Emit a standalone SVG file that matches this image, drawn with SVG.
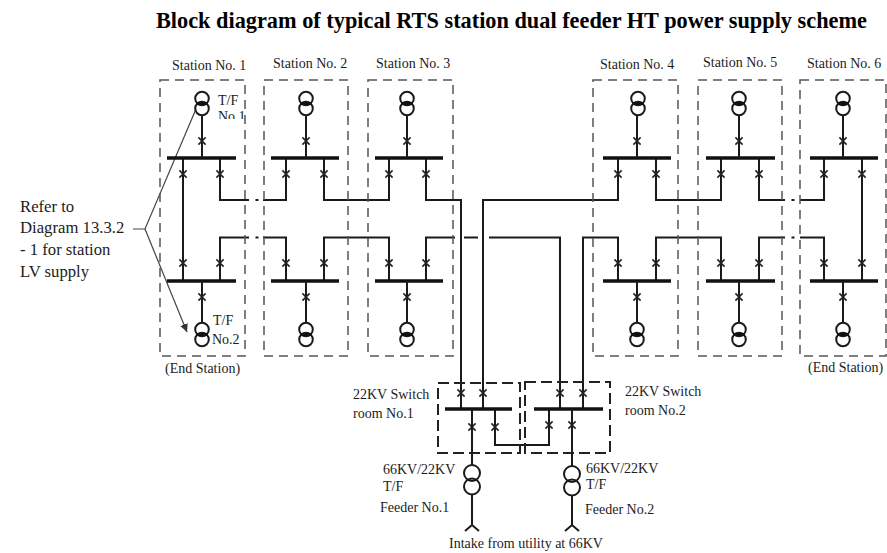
<svg xmlns="http://www.w3.org/2000/svg" width="887" height="553" viewBox="0 0 887 553">
<style>
text{font-family:"Liberation Serif","Times New Roman",serif;font-size:14px;fill:#1c1c1c}
.title{font-size:22.300px;font-weight:bold;fill:#000}
.side{font-size:16.7px}
.box{fill:none;stroke:#555;stroke-width:1.5;stroke-dasharray:9 6}
.room{fill:none;stroke:#222;stroke-width:2;stroke-dasharray:11 5}
.bus{stroke:#111;stroke-width:3.5;fill:none}
.ln{stroke:#1a1a1a;stroke-width:2;fill:none}
.lead{stroke:#444;stroke-width:1.2;fill:none}
.x{stroke:#222;stroke-width:1.6;fill:none}
.tf{stroke:#1a1a1a;stroke-width:2;fill:none}
</style>
<defs>
<path id="x" class="x" d="M-3.600-3.600L3.600 3.600M-3.600 3.600L3.600-3.600"/>
<g id="tf"><circle class="tf" cx="0" cy="-5" r="6.8"/><circle class="tf" cx="0" cy="5" r="6.8"/><path d="M-5.500 0H5.500" stroke="#111" stroke-width="3"/></g>
<g id="tfb"><circle class="tf" cx="0" cy="-7" r="8"/><circle class="tf" cx="0" cy="6.500" r="8"/></g>
<marker id="arr" markerWidth="9" markerHeight="8" refX="8" refY="4" orient="auto" markerUnits="userSpaceOnUse"><path d="M0 0L8 4L0 8Z" fill="#333"/></marker>
<clipPath id="clipTf"><rect x="210" y="94" width="40" height="25"/></clipPath>
</defs>

<text class="title" x="156" y="28">Block diagram of typical RTS station dual feeder HT power supply scheme</text>

<g id="connectors">
<path class="ln" d="M220 158V200H249M263 200H286V158M324 158V200H389V158M426 158V200H461V409M483 409V200H618V158M656 158V200H721V158M759 158V200H785M800 200H824V158"/>
<path class="ln" d="M220 281V237.500H249M263 237.500H286V281M324 281V237.500H389V281M426 281V237.500H455M464 237.500H478M489 237.500H560V409M583 409V237.500H618V281M656 281V237.500H721V281M759 281V237.500H785M800 237.500H824V281"/>
<path class="ln" d="M255.500 200H258.500M255.500 237.500H258.500M791.500 200H794.500M791.500 237.500H794.500"/>
<path class="ln" d="M183 158V281M862 158V281"/>
<path class="ln" d="M495 409V445H549V409"/>
</g>

<g id="refer-note">
<text class="side" x="20" y="212">Refer to</text>
<text class="side" x="20" y="233">Diagram 13.3.2</text>
<text class="side" x="20" y="255">- 1 for station</text>
<text class="side" x="20" y="277">LV supply</text>
<path class="lead" d="M133 229H145L196 109"/>
<path class="lead" d="M145 229L187 332" marker-end="url(#arr)"/>
</g>

<g id="station1">
<rect class="box" x="160" y="80" width="85" height="276"/>
<text x="172" y="70">Station No. 1</text>
<path class="bus" d="M167 158H236M167 281H236"/>
<path class="ln" d="M202 115V158M202 281V322"/>
<use href="#tf" x="202" y="103.500"/><use href="#tf" x="202" y="334.500"/>
<use href="#x" x="202" y="141"/><use href="#x" x="202" y="297"/>
<use href="#x" x="183" y="174"/><use href="#x" x="220" y="174"/><use href="#x" x="183" y="263"/><use href="#x" x="220" y="263"/>
<text x="218" y="105" clip-path="url(#clipTf)">T/F</text>
<text x="218" y="121" clip-path="url(#clipTf)">No.1</text>
<text x="213" y="325">T/F</text>
<text x="212" y="344">No.2</text>
<text x="165" y="373">(End Station)</text>
</g>

<g id="station2">
<rect class="box" x="264" y="80" width="84" height="276"/>
<text x="273" y="68">Station No. 2</text>
<path class="bus" d="M271 158H339M271 281H339"/>
<path class="ln" d="M306 115V158M306 281V322"/>
<use href="#tf" x="306" y="103.500"/><use href="#tf" x="306" y="334.500"/>
<use href="#x" x="306" y="141"/><use href="#x" x="306" y="297"/>
<use href="#x" x="286" y="174"/><use href="#x" x="324" y="174"/><use href="#x" x="286" y="263"/><use href="#x" x="324" y="263"/>
</g>

<g id="station3">
<rect class="box" x="368" y="80" width="85" height="276"/>
<text x="376" y="68">Station No. 3</text>
<path class="bus" d="M375 158H443M375 281H443"/>
<path class="ln" d="M407 115V158M407 281V322"/>
<use href="#tf" x="407" y="103.500"/><use href="#tf" x="407" y="334.500"/>
<use href="#x" x="407" y="141"/><use href="#x" x="407" y="297"/>
<use href="#x" x="389" y="174"/><use href="#x" x="426" y="174"/><use href="#x" x="389" y="263"/><use href="#x" x="426" y="263"/>
</g>

<g id="station4">
<rect class="box" x="593" y="80" width="85" height="276"/>
<text x="600" y="69">Station No. 4</text>
<path class="bus" d="M603 158H671M603 281H671"/>
<path class="ln" d="M637 115V158M637 281V322"/>
<use href="#tf" x="638" y="103.500"/><use href="#tf" x="637" y="334.500"/>
<use href="#x" x="637" y="141"/><use href="#x" x="637" y="297"/>
<use href="#x" x="618" y="174"/><use href="#x" x="656" y="174"/><use href="#x" x="618" y="263"/><use href="#x" x="656" y="263"/>
</g>

<g id="station5">
<rect class="box" x="698" y="80" width="84" height="276"/>
<text x="703" y="67">Station No. 5</text>
<path class="bus" d="M706 158H775M706 281H775"/>
<path class="ln" d="M739 115V158M739 281V322"/>
<use href="#tf" x="739" y="103.500"/><use href="#tf" x="739" y="334.500"/>
<use href="#x" x="739" y="141"/><use href="#x" x="739" y="297"/>
<use href="#x" x="721" y="174"/><use href="#x" x="759" y="174"/><use href="#x" x="721" y="263"/><use href="#x" x="759" y="263"/>
</g>

<g id="station6">
<rect class="box" x="800" y="80" width="86" height="276"/>
<text x="807" y="68">Station No. 6</text>
<path class="bus" d="M810 158H878M810 281H878"/>
<path class="ln" d="M843 115V158M843 281V322"/>
<use href="#tf" x="843" y="103.500"/><use href="#tf" x="843" y="334.500"/>
<use href="#x" x="843" y="141"/><use href="#x" x="843" y="297"/>
<use href="#x" x="824" y="174"/><use href="#x" x="862" y="174"/><use href="#x" x="824" y="263"/><use href="#x" x="862" y="263"/>
<text x="808" y="372">(End Station)</text>
</g>

<g id="switch-room1">
<rect class="room" x="438" y="383" width="82" height="70"/>
<text x="353" y="399">22KV Switch</text>
<text x="353" y="418">room No.1</text>
<path class="bus" d="M445 409H512"/>
<use href="#x" x="461" y="393"/><use href="#x" x="483" y="393"/>
<use href="#x" x="472" y="427"/><use href="#x" x="495" y="427"/>
</g>

<g id="switch-room2">
<rect class="room" x="525" y="382" width="85" height="71"/>
<text x="625" y="396">22KV Switch</text>
<text x="625" y="415">room No.2</text>
<path class="bus" d="M534 409H603"/>
<use href="#x" x="560" y="393"/><use href="#x" x="583" y="393"/>
<use href="#x" x="549" y="425"/><use href="#x" x="572" y="425"/>
</g>

<g id="feeder1">
<path class="ln" d="M472 409V465M472 494V525M465 531L472 525L479 531"/>
<use href="#tfb" x="472" y="480"/>
<text x="383" y="474">66KV/22KV</text>
<text x="383" y="491">T/F</text>
<text x="380" y="512">Feeder No.1</text>
</g>

<g id="feeder2">
<path class="ln" d="M572 409V466M572 495V525M565 531L572 525L579 531"/>
<use href="#tfb" x="572" y="481"/>
<text x="586" y="473">66KV/22KV</text>
<text x="586" y="489">T/F</text>
<text x="585" y="514">Feeder No.2</text>
</g>

<text x="449" y="548">Intake from utility at 66KV</text>
</svg>
